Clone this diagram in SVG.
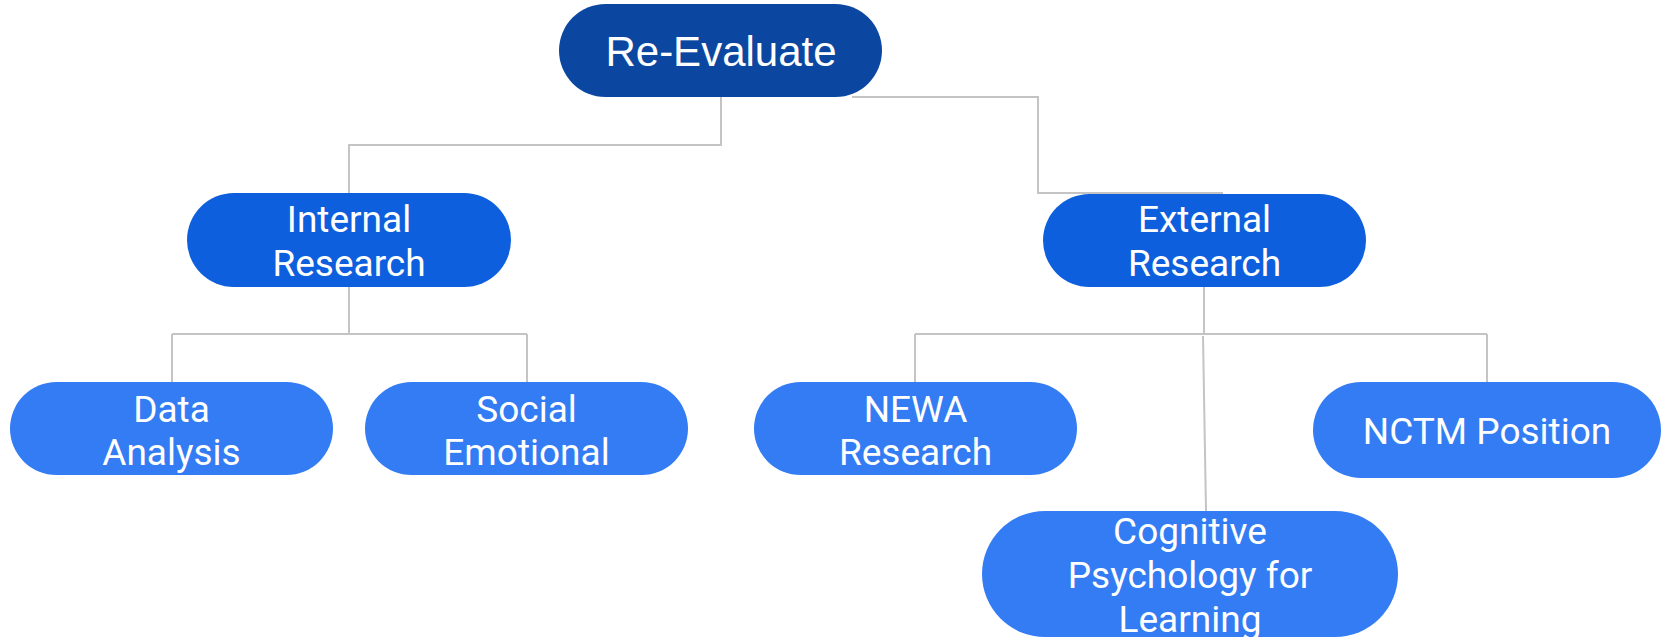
<svg xmlns="http://www.w3.org/2000/svg" width="1671" height="643" viewBox="0 0 1671 643">
<style>
.conn{fill:none;stroke:#c4c4c4;stroke-width:2}
.l1{fill:#0b47a1}
.l2{fill:#0e5fdd}
.l3{fill:#337cf3}
.t{font-family:Roboto,"Liberation Sans",sans-serif;font-size:37px;fill:#ffffff;text-anchor:middle}
.title{font-family:"Liberation Sans",Arial,sans-serif;font-size:42px;fill:#ffffff;text-anchor:middle}
</style>
<defs>
<clipPath id="cogClip"><rect x="982" y="511" width="416" height="126" rx="63"/></clipPath>
</defs>
<rect width="1671" height="643" fill="#ffffff"/>
<g id="connectors">
<path class="conn" d="M721,97 V145 H349 V193"/>
<path class="conn" d="M852,97 H1038 V193 H1223"/>
<path class="conn" d="M349,287 V334 M172,334 H527 M172,334 V382 M527,334 V382"/>
<path class="conn" d="M1204,287 V334 M915,334 H1487 M915,334 V382 M1487,334 V382"/>
<path class="conn" d="M1203,336 L1206,511"/>
</g>
<g id="node-reevaluate">
<rect class="l1" x="559" y="4" width="323" height="93" rx="46.5"/>
<text class="title" x="721" y="66">Re-Evaluate</text>
</g>
<g id="node-internal">
<rect class="l2" x="187" y="193" width="324" height="94" rx="47"/>
<text class="t" x="349" y="232">Internal</text>
<text class="t" x="349" y="276">Research</text>
</g>
<g id="node-external">
<rect class="l2" x="1043" y="194" width="323" height="93" rx="46.5"/>
<text class="t" x="1204.5" y="232">External</text>
<text class="t" x="1204.5" y="276">Research</text>
</g>
<g id="node-data">
<rect class="l3" x="10" y="382" width="323" height="93" rx="46.5"/>
<text class="t" x="171.5" y="422">Data</text>
<text class="t" x="171.5" y="465">Analysis</text>
</g>
<g id="node-social">
<rect class="l3" x="365" y="382" width="323" height="93" rx="46.5"/>
<text class="t" x="526.5" y="422">Social</text>
<text class="t" x="526.5" y="465">Emotional</text>
</g>
<g id="node-newa">
<rect class="l3" x="754" y="382" width="323" height="93" rx="46.5"/>
<text class="t" x="915.5" y="422">NEWA</text>
<text class="t" x="915.5" y="465">Research</text>
</g>
<g id="node-nctm">
<rect class="l3" x="1313" y="382" width="348" height="96" rx="48"/>
<text class="t" x="1487" y="444">NCTM Position</text>
</g>
<g id="node-cognitive">
<rect class="l3" x="982" y="511" width="416" height="126" rx="63"/>
<g clip-path="url(#cogClip)">
<text class="t" x="1190" y="544">Cognitive</text>
<text class="t" x="1190" y="588">Psychology for</text>
<text class="t" x="1190" y="632">Learning</text>
</g>
</g>
</svg>
